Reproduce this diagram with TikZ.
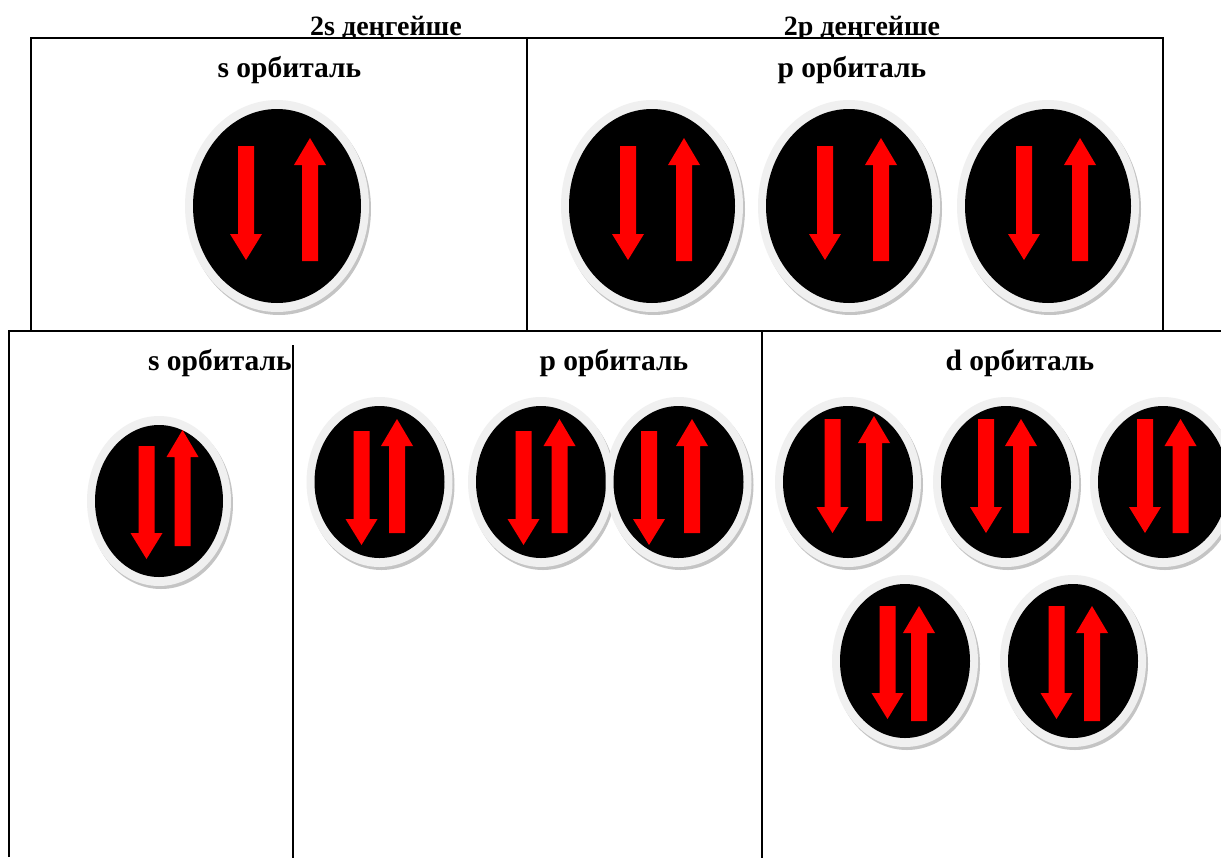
\documentclass[tikz,border=0pt]{standalone}
\usepackage{fontspec}
\newfontfamily\labfont{Liberation Serif}
\definecolor{ringgray}{HTML}{F0F0F0}
\definecolor{shadowgray}{HTML}{C4C4C4}
\definecolor{spinred}{HTML}{FF0000}
\tikzset{
  lab/.style={font=\labfont\bfseries\fontsize{28}{30}\selectfont, inner sep=0pt, anchor=base},
  olab/.style={font=\labfont\bfseries\fontsize{29.5}{31}\selectfont, inner sep=0pt, anchor=base},
  frame/.style={line width=2pt, draw=black},
  pics/orb/.style n args={8}{code={
    \fill[shadowgray] (2,3) ellipse [x radius={#1+8}, y radius={#2+9}];
    \fill[ringgray] (0,0) ellipse [x radius={#1+8}, y radius={#2+9}];
    \fill[black] (0,0) ellipse [x radius=#1, y radius=#2];
    % down arrow
    \fill[spinred] ({#3-8},#4) -- ({#3+8},#4) -- ({#3+8},#5) -- ({#3+16},#5)
      -- (#3,{#5+26}) -- ({#3-16},#5) -- ({#3-8},#5) -- cycle;
    % up arrow
    \fill[spinred] ({#6-8},#7) -- ({#6+8},#7) -- ({#6+8},#8) -- ({#6+16},#8)
      -- (#6,{#8-27}) -- ({#6-16},#8) -- ({#6-8},#8) -- cycle;
  }}
}
\begin{document}
\begin{tikzpicture}[x=1pt,y=-1pt]
\useasboundingbox (0,0) rectangle (1221,857);
\clip (0,0) rectangle (1221,857);
\fill[white] (0,0) rectangle (1221,857);

% frames
\coordinate (tl) at (31,38);
\coordinate (br) at (1163,331);
\draw[frame] (tl) rectangle (br);
\coordinate (d1a) at (527,38);
\coordinate (d1b) at (527,331);
\draw[frame] (d1a) -- (d1b);
\coordinate (bl) at (9,857);
\coordinate (blt) at (9,331);
\coordinate (brt) at (1225,331);
\draw[frame] (bl) -- (blt) -- (brt);
\coordinate (d2a) at (293,345);
\coordinate (d2b) at (293,860);
\draw[frame] (d2a) -- (d2b);
\coordinate (d3a) at (762,331);
\coordinate (d3b) at (762,860);
\draw[frame] (d3a) -- (d3b);

% headers (clipped above the frame line)
\begin{scope}
\clip (0,0) rectangle (1221,37);
\node[lab] (h2s) at (386,35) {2s деңгейше};
\node[lab] (h2p) at (862,35) {2p деңгейше};
\end{scope}

% labels
\node[olab] (ls1) at (289.5,77) {s орбиталь};
\node[olab] (lp1) at (852,77) {p орбиталь};
\node[olab] (ls2) at (220,370) {s орбиталь};
\node[olab] (lp2) at (614,370) {p орбиталь};
\node[olab] (ld2) at (1020,370) {d орбиталь};

% top orbitals
\pic (os1) at (277,206) {orb={84}{97}{-31}{-60}{28}{33}{55}{-41}};
\pic (op1) at (652,206) {orb={83}{97}{-24}{-60}{28}{32}{55}{-41}};
\pic (op2) at (849,206) {orb={83}{97}{-24}{-60}{28}{32}{55}{-41}};
\pic (op3) at (1048,206) {orb={83}{97}{-24}{-60}{28}{32}{55}{-41}};

% bottom s
\pic (bs1) at (159,501) {orb={64}{76}{-12.5}{-55}{32}{23.5}{45}{-44}};
% bottom p
\pic (bp1) at (379.5,482) {orb={65}{76}{-18}{-51}{37}{17.5}{51}{-36}};
\pic (bp2) at (541,482) {orb={65}{76}{-17.5}{-51}{37}{18.5}{51}{-36}};
\pic (bp3) at (678.5,482) {orb={65}{76}{-29.5}{-51}{37}{13.5}{51}{-36}};
% bottom d
\pic (bd1) at (848,482) {orb={65}{76}{-15.5}{-63}{25}{26}{39}{-39}};
\pic (bd2) at (1006,482) {orb={65}{76}{-20}{-63}{25}{15}{51}{-36}};
\pic (bd3) at (1163,482) {orb={65}{76}{-18}{-63}{25}{17.5}{51}{-36}};
\pic (bd4) at (905,661) {orb={65}{77}{-17.5}{-55}{32}{14}{60}{-28}};
\pic (bd5) at (1073,661) {orb={65}{77}{-16.5}{-55}{32}{19}{60}{-28}};
\end{tikzpicture}
\end{document}
